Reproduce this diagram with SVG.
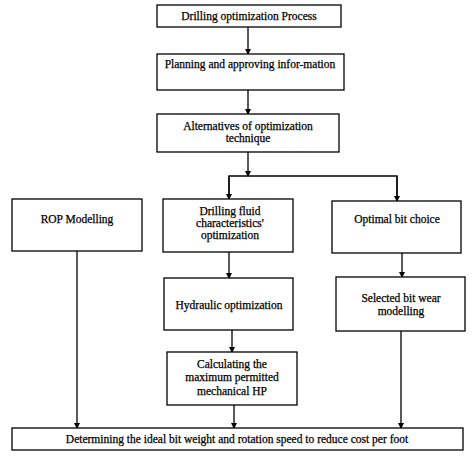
<svg xmlns="http://www.w3.org/2000/svg" width="476" height="465" viewBox="0 0 476 465">
<defs>
<marker id="arr" markerWidth="6" markerHeight="6" refX="5" refY="3" orient="auto" markerUnits="userSpaceOnUse">
<path d="M0,0 L6,3 L0,6 Z" fill="#000"/>
</marker>
<style>
.box{fill:#fff;stroke:#000;stroke-width:1.3}
.t{font-family:"Liberation Serif","Times New Roman",serif;font-size:11.5px;fill:#000;stroke:#000;stroke-width:0.25;text-anchor:middle}
.c{fill:none;stroke:#000;stroke-width:1.3}
.a{fill:none;stroke:#000;stroke-width:1.3;marker-end:url(#arr)}
</style>
</defs>
<rect width="476" height="465" fill="#fff"/>
<g id="connectors">
<line class="a" x1="248" y1="27" x2="248" y2="54"/>
<line class="a" x1="248" y1="90" x2="248" y2="114"/>
<line class="a" x1="248" y1="152" x2="248" y2="176"/>
<polyline class="c" points="229,199 229,176 397,176 397,199"/>
<line class="a" x1="229" y1="176" x2="229" y2="199"/>
<line class="a" x1="397" y1="176" x2="397" y2="201"/>
<line class="a" x1="229" y1="252" x2="229" y2="278"/>
<line class="a" x1="402" y1="253" x2="402" y2="277"/>
<line class="a" x1="232" y1="330" x2="232" y2="352"/>
<line class="a" x1="234" y1="405" x2="234" y2="428"/>
<line class="a" x1="77" y1="251" x2="77" y2="428"/>
<line class="a" x1="401" y1="331" x2="401" y2="428"/>
</g>
<g id="n1"><rect class="box" x="157" y="5" width="184" height="22"/><text class="t" x="249" y="20">Drilling optimization Process</text></g>
<g id="n2"><rect class="box" x="157" y="54" width="187" height="36"/><text class="t" x="250" y="68">Planning and approving infor-mation</text></g>
<g id="n3"><rect class="box" x="157" y="114" width="182" height="38"/><text class="t" x="248" y="130">Alternatives of optimization</text><text class="t" x="248" y="142">technique</text></g>
<g id="n4"><rect class="box" x="12" y="199" width="130" height="52"/><text class="t" x="77" y="223">ROP Modelling</text></g>
<g id="n5"><rect class="box" x="163" y="199" width="130" height="53"/><text class="t" x="230" y="215">Drilling fluid</text><text class="t" x="230" y="227">characteristics'</text><text class="t" x="230" y="239">optimization</text></g>
<g id="n6"><rect class="box" x="332" y="201" width="129" height="52"/><text class="t" x="397" y="223">Optimal bit choice</text></g>
<g id="n7"><rect class="box" x="164" y="278" width="129" height="52"/><text class="t" x="229" y="309">Hydraulic optimization</text></g>
<g id="n8"><rect class="box" x="336" y="277" width="129" height="54"/><text class="t" x="401" y="302">Selected bit wear</text><text class="t" x="401" y="315">modelling</text></g>
<g id="n9"><rect class="box" x="167" y="352" width="130" height="53"/><text class="t" x="232" y="368">Calculating the</text><text class="t" x="232" y="381">maximum permitted</text><text class="t" x="232" y="395">mechanical HP</text></g>
<g id="n10"><rect class="box" x="12" y="428" width="451" height="22"/><text class="t" x="237" y="443">Determining the ideal bit weight and rotation speed to reduce cost per foot</text></g>
</svg>
